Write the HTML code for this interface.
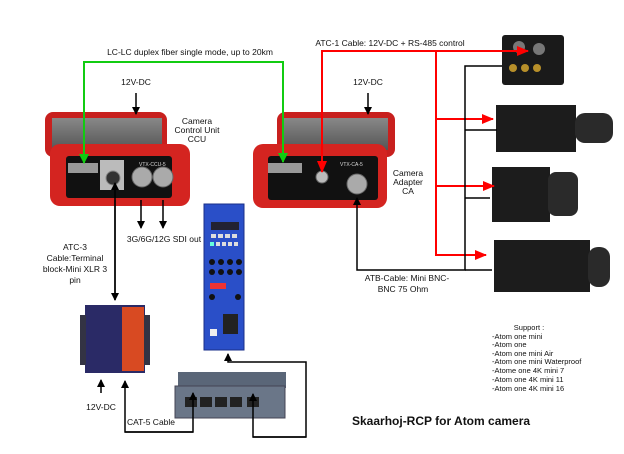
<!DOCTYPE html>
<html><head><meta charset="utf-8"><style>
html,body{margin:0;padding:0;background:#fff}
svg{display:block}
text{font-family:"Liberation Sans",sans-serif;fill:#111}
</style></head><body>
<svg width="624" height="454" viewBox="0 0 624 454" xmlns="http://www.w3.org/2000/svg">
<defs>
<marker id="ab" markerWidth="8" markerHeight="8" refX="7" refY="4" orient="auto" markerUnits="userSpaceOnUse"><path d="M0,0 L8,4 L0,8 z" fill="#000"/></marker>
<marker id="ar" markerWidth="12" markerHeight="10" refX="11" refY="5" orient="auto" markerUnits="userSpaceOnUse"><path d="M0,0 L12,5 L0,10 z" fill="#f00"/></marker>
<marker id="ag" markerWidth="10" markerHeight="10" refX="9" refY="5" orient="auto" markerUnits="userSpaceOnUse"><path d="M0,0 L10,5 L0,10 z" fill="#1c1"/></marker>
<linearGradient id="gr" x1="0" y1="0" x2="0" y2="1"><stop offset="0" stop-color="#888"/><stop offset="1" stop-color="#555"/></linearGradient>
</defs>

<!-- CCU -->
<rect x="45" y="112" width="122" height="45" rx="8" fill="#c8201e"/>
<rect x="52" y="118" width="110" height="32" fill="url(#gr)"/>
<rect x="50" y="144" width="140" height="62" rx="10" fill="#d42420"/>
<rect x="66" y="156" width="106" height="42" rx="3" fill="#111"/>
<rect x="100" y="160" width="24" height="30" fill="#bbb"/>
<circle cx="113" cy="178" r="7" fill="#333" stroke="#888"/>
<circle cx="142" cy="177" r="10" fill="#aaa" stroke="#666"/>
<circle cx="163" cy="177" r="10" fill="#aaa" stroke="#666"/>
<rect x="68" y="163" width="30" height="10" fill="#999"/>
<text x="139" y="166" font-size="5" style="fill:#ddd">VTX-CCU-5</text>

<!-- CA -->
<rect x="277" y="112" width="118" height="45" rx="8" fill="#c8201e"/>
<rect x="283" y="118" width="105" height="32" fill="url(#gr)"/>
<rect x="253" y="144" width="134" height="64" rx="10" fill="#d42420"/>
<rect x="268" y="156" width="110" height="44" rx="3" fill="#111"/>
<rect x="268" y="163" width="34" height="10" fill="#999"/>
<circle cx="322" cy="177" r="6" fill="#bbb" stroke="#666"/>
<circle cx="357" cy="184" r="10" fill="#aaa" stroke="#666"/>
<text x="340" y="166" font-size="5" style="fill:#ddd">VTX-CA-5</text>

<!-- Blue panel -->
<rect x="204" y="204" width="40" height="146" fill="#2a4fc8" stroke="#1a2f88"/>
<rect x="211" y="222" width="28" height="8" fill="#223"/>
<g fill="#ddd"><rect x="211" y="234" width="5" height="4"/><rect x="218" y="234" width="5" height="4"/><rect x="225" y="234" width="5" height="4"/><rect x="232" y="234" width="5" height="4"/>
<rect x="210" y="242" width="4" height="4" fill="#6fd"/><rect x="216" y="242" width="4" height="4"/><rect x="222" y="242" width="4" height="4"/><rect x="228" y="242" width="4" height="4"/><rect x="234" y="242" width="4" height="4"/></g>
<g fill="#111"><circle cx="212" cy="262" r="3"/><circle cx="221" cy="262" r="3"/><circle cx="230" cy="262" r="3"/><circle cx="239" cy="262" r="3"/>
<circle cx="212" cy="272" r="3"/><circle cx="221" cy="272" r="3"/><circle cx="230" cy="272" r="3"/><circle cx="239" cy="272" r="3"/>
<circle cx="212" cy="297" r="3"/><circle cx="238" cy="297" r="3"/></g>
<rect x="210" y="283" width="16" height="6" fill="#e33"/>
<rect x="223" y="314" width="15" height="20" fill="#222"/>
<rect x="210" y="329" width="7" height="7" fill="#eee"/>

<!-- Serial device -->
<rect x="85" y="305" width="60" height="68" fill="#2a2a66"/>
<rect x="122" y="307" width="22" height="64" fill="#d84a22"/>
<rect x="80" y="315" width="6" height="50" fill="#334"/><rect x="144" y="315" width="6" height="50" fill="#334"/>

<!-- Switch -->
<rect x="178" y="372" width="108" height="16" fill="#5a6678"/>
<rect x="175" y="386" width="110" height="32" fill="#6a7688" stroke="#445"/>
<g fill="#222"><rect x="185" y="397" width="12" height="10"/><rect x="200" y="397" width="12" height="10"/><rect x="215" y="397" width="12" height="10"/><rect x="230" y="397" width="12" height="10"/><rect x="247" y="397" width="12" height="10"/></g>

<!-- Cameras -->
<rect x="502" y="35" width="62" height="50" rx="3" fill="#1a1a1a"/>
<circle cx="519" cy="47" r="6" fill="#777"/><circle cx="539" cy="49" r="6" fill="#777"/>
<circle cx="513" cy="68" r="4" fill="#b8902a"/><circle cx="525" cy="68" r="4" fill="#b8902a"/><circle cx="537" cy="68" r="4" fill="#b8902a"/>
<rect x="496" y="105" width="80" height="47" fill="#1c1c1c"/>
<rect x="575" y="113" width="38" height="30" rx="10" fill="#2a2a2a"/>
<rect x="492" y="167" width="58" height="55" fill="#1c1c1c"/>
<rect x="548" y="172" width="30" height="44" rx="8" fill="#2a2a2a"/>
<rect x="494" y="240" width="96" height="52" fill="#1c1c1c"/>
<rect x="588" y="247" width="22" height="40" rx="10" fill="#2a2a2a"/>

<!-- Green fiber -->
<polyline points="84,160 84,62 283,62 283,162" fill="none" stroke="#1c1" stroke-width="2" marker-end="url(#ag)"/>
<line x1="84" y1="70" x2="84" y2="163" stroke="#1c1" stroke-width="2" marker-end="url(#ag)"/>

<!-- Red lines -->
<g stroke="#f00" stroke-width="2" fill="none">
<polyline points="322,170 322,51 528,51" marker-end="url(#ar)"/>
<line x1="322" y1="60" x2="322" y2="172" marker-end="url(#ar)"/>
<polyline points="436,51 436,255 486,255" marker-end="url(#ar)"/>
<line x1="436" y1="119" x2="493" y2="119" marker-end="url(#ar)"/>
<line x1="436" y1="186" x2="494" y2="186" marker-end="url(#ar)"/>
</g>

<!-- Black lines -->
<g stroke="#000" stroke-width="1.5" fill="none">
<polyline points="502,66 465,66 465,270 357,270 357,198" marker-end="url(#ab)"/>
<line x1="465" y1="130" x2="497" y2="130"/>
<line x1="465" y1="198" x2="490" y2="198"/>
<line x1="465" y1="270" x2="492" y2="270"/>
<line x1="136" y1="93" x2="136" y2="114" marker-end="url(#ab)"/>
<line x1="368" y1="93" x2="368" y2="114" marker-end="url(#ab)"/>
<line x1="141" y1="200" x2="141" y2="228" marker-end="url(#ab)"/>
<line x1="163" y1="200" x2="163" y2="228" marker-end="url(#ab)"/>
<line x1="115" y1="300" x2="115" y2="183" marker-end="url(#ab)"/>
<line x1="115" y1="200" x2="115" y2="300" marker-end="url(#ab)"/>
<line x1="101" y1="393" x2="101" y2="380" marker-end="url(#ab)"/>
<polyline points="193,432 125,432 125,381" marker-end="url(#ab)"/>
<polyline points="125,432 193,432 193,393" marker-end="url(#ab)"/>
<polyline points="306,437 253,437 253,394" marker-end="url(#ab)"/>
<polyline points="253,437 306,437 306,362 228,362 228,354" marker-end="url(#ab)"/>
</g>

<!-- Labels -->
<g font-size="8.5">
<text x="190" y="55" text-anchor="middle">LC-LC duplex fiber single mode, up to 20km</text>
<text x="136" y="85" text-anchor="middle">12V-DC</text>
<text x="368" y="85" text-anchor="middle">12V-DC</text>
<text x="197" y="124" text-anchor="middle">Camera</text>
<text x="197" y="133" text-anchor="middle">Control Unit</text>
<text x="197" y="142" text-anchor="middle">CCU</text>
<text x="408" y="176" text-anchor="middle">Camera</text>
<text x="408" y="185" text-anchor="middle">Adapter</text>
<text x="408" y="194" text-anchor="middle">CA</text>
<text x="164" y="242" text-anchor="middle">3G/6G/12G SDI out</text>
<text x="75" y="250" text-anchor="middle">ATC-3</text>
<text x="75" y="261" text-anchor="middle">Cable:Terminal</text>
<text x="75" y="272" text-anchor="middle">block-Mini XLR 3</text>
<text x="75" y="283" text-anchor="middle">pin</text>
<text x="101" y="410" text-anchor="middle">12V-DC</text>
<text x="151" y="425" text-anchor="middle">CAT-5 Cable</text>
<text x="390" y="46" text-anchor="middle">ATC-1 Cable: 12V-DC + RS-485 control</text>
<text x="407" y="281" text-anchor="middle">ATB-Cable: Mini BNC-</text>
<text x="403" y="292" text-anchor="middle">BNC 75 Ohm</text>
</g>
<g font-size="7.5">
<text x="529" y="330" text-anchor="middle">Support :</text>
<text x="492" y="339">-Atom one mini</text>
<text x="492" y="347">-Atom one</text>
<text x="492" y="356">-Atom one mini Air</text>
<text x="492" y="364">-Atom one mini Waterproof</text>
<text x="492" y="373">-Atome one 4K mini 7</text>
<text x="492" y="382">-Atom one 4K mini 11</text>
<text x="492" y="391">-Atom one 4K mini 16</text>
</g>
<text x="352" y="425" font-size="12" font-weight="bold">Skaarhoj-RCP for Atom camera</text>
</svg>
</body></html>
